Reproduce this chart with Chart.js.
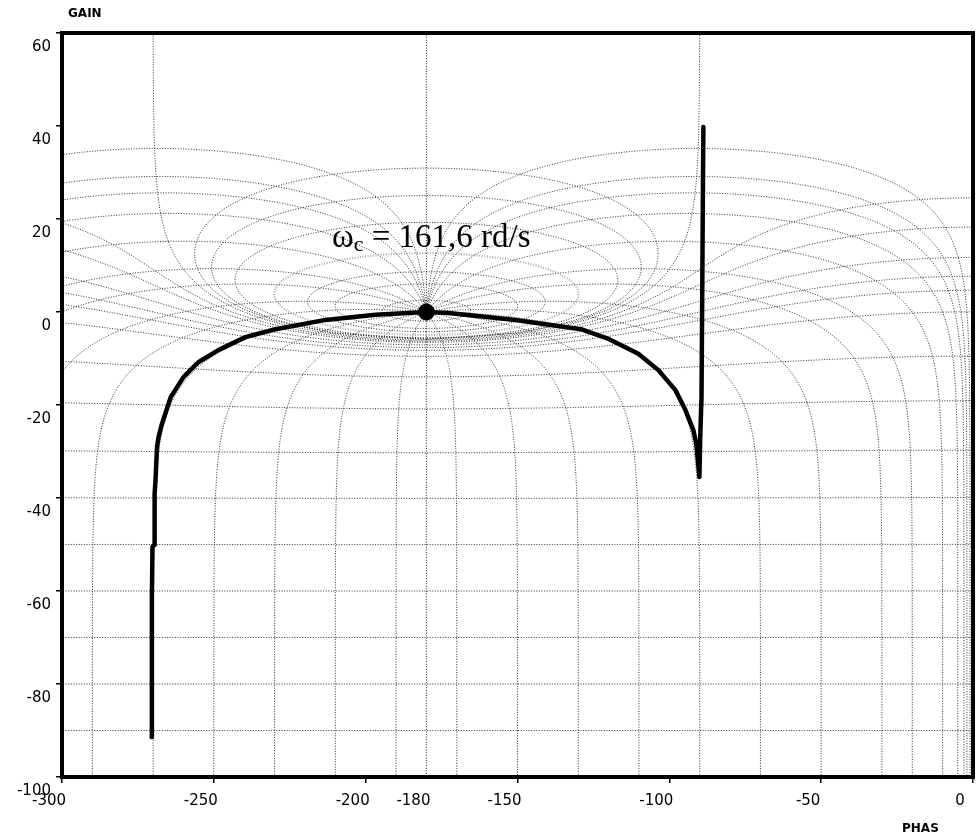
<!DOCTYPE html>
<html>
<head>
<meta charset="utf-8">
<title>Black-Nichols</title>
<script src="https://cdn.jsdelivr.net/npm/chart.js@4.4.0/dist/chart.umd.min.js"></script>
<style>
  html, body { margin: 0; padding: 0; background: #fff; }
  #wrap { position: relative; width: 977px; height: 837px; }
</style>
</head>
<body>
<div id="wrap"><canvas id="nichols" width="977" height="837"></canvas></div>
<script>
////////// Data

// open-loop locus (phase in deg, gain in dB)
const locusPhase = [
  -270.5, -270.4, -270.4, -270.2, -269.7, -269.5, -269.2, -268.7, -268.2, -267.2,
  -264.2, -260.0, -257.4, -255.1, -248.5, -239.6, -229.7, -213.2, -196.8, -180.0,
  -172.7, -150.7, -129.1, -120.0, -110.2, -103.6, -98.0, -94.7, -92.1, -91.1,
  -90.1, -89.8, -89.4, -89.1, -88.8,
];
const locusGain = [
  -91.4, -79.1, -61.3, -50.5, -50.1, -39.1, -36.1, -29.0, -26.9, -24.3,
  -18.3, -14.0, -12.3, -10.8, -8.2, -5.4, -3.7, -1.7, -0.6, 0,
  -0.2, -1.7, -3.7, -5.8, -9.0, -12.5, -16.8, -21.1, -25.4, -28.4,
  -35.5, -26.2, -18.3, 10.3, 39.8,
];

// crossover point
const critPhase = -180;
const critGain = 0;
const critLabel = " = 161,6 rd/s";

// abacus iso-lines : closed-loop gain (dB) and closed-loop phase (deg)
const isoGain = [0.25, 0.5, 1, 2.3, 4, 6, 12, 0, -0.5, -1, -2, -3, -4, -6, -12,
  -20, -30, -40, -50, -60, -70, -80, -90];
const isoPhase = [1, 2, 3, 5, 10, 20, 30, 50, 70, 90, 110, 130, 150, 170];
const highlightGain = 2.3;

// axes
const phaseTicks = [-300, -250, -200, -180, -150, -100, -50, 0];
const gainTicks = [-100, -80, -60, -40, -20, 0, 20, 40, 60];

////////// Abacus curves (closed loop T = L / (1 + L))
const rad = Math.PI / 180;
const dB = (r) => 20 * Math.log10(r);

function gainContour(m) {
  const M = Math.pow(10, m / 20);
  const pts = [];
  if (m === 0) {
    // Re(L) = -1/2
    const offs = [];
    for (let k = -3; k <= Math.log10(90); k += 0.02) offs.push(Math.pow(10, k));
    offs.push(90);
    offs.forEach((d) => {
      const phi = -90 - d;
      pts.push({ x: phi, y: dB(-1 / (2 * Math.cos(phi * rad))) });
    });
    offs.slice().reverse().forEach((d) => {
      const phi = -270 + d;
      pts.push({ x: phi, y: dB(-1 / (2 * Math.cos(phi * rad))) });
    });
  } else if (M < 1) {
    const M2 = M * M;
    for (let phi = -360; phi <= 0.001; phi += 0.5) {
      const c = Math.cos(phi * rad);
      const r = (M2 * c + Math.sqrt(M2 * M2 * c * c + M2 * (1 - M2))) / (1 - M2);
      pts.push({ x: phi, y: dB(r) });
    }
  } else {
    const M2 = M * M;
    const cen = -M2 / (M2 - 1);
    const rr = M / (M2 - 1);
    for (let t = 0; t <= 360; t += 1) {
      const re = cen + rr * Math.cos(t * rad);
      const im = rr * Math.sin(t * rad);
      let ph = Math.atan2(im, re) / rad;
      if (ph > 0) ph -= 360;
      pts.push({ x: ph, y: dB(Math.hypot(re, im)) });
    }
  }
  return pts;
}

function phaseContour(n) {
  const psi = -n;
  const span = 180 + psi;
  const s = [];
  for (let k = -9; k < -2.7; k += 0.05) s.push(Math.pow(10, k));
  for (let u = 0.002; u <= 1.0001; u += 0.002) s.push(u);
  s.sort((p, q) => p - q);
  const pts = [];
  s.forEach((v) => {
    const a = -span * v;
    const r = Math.sin(a * rad) / Math.sin(psi * rad);
    if (r > 0) pts.push({ x: psi + a, y: dB(r) });
  });
  return pts;
}

const mirror = (pts) => pts.map((p) => ({ x: -360 - p.x, y: p.y }));

const gridStyle = {
  showLine: true,
  pointRadius: 0,
  borderColor: "rgba(20,20,20,0.9)",
  borderWidth: 1,
  borderDash: [1, 1.6],
  tension: 0,
  order: 3,
};

const gridSets = [];
isoGain.forEach((m) => {
  const hi = m === highlightGain;
  gridSets.push({
    ...gridStyle,
    data: gainContour(m),
    borderColor: hi ? "#a9a9a9" : gridStyle.borderColor,
    borderWidth: hi ? 2.2 : 1,
  });
});
isoPhase.forEach((n) => {
  const pts = phaseContour(n);
  gridSets.push({ ...gridStyle, data: pts });
  gridSets.push({ ...gridStyle, data: mirror(pts) });
});
// closed-loop phase 0 : the -180 line above 0 dB
gridSets.push({ ...gridStyle, data: [{ x: -180, y: -200 }, { x: -180, y: 200 }] });

////////// Frame and texts
const decor = {
  id: "decor",
  afterDatasetsDraw(chart) {
    const { ctx, chartArea: a } = chart;
    ctx.save();
    ctx.strokeStyle = "#000";
    ctx.lineWidth = 4;
    ctx.strokeRect(a.left, a.top, a.right - a.left, a.bottom - a.top);

    ctx.fillStyle = "#000";
    ctx.font = "bold 12px 'DejaVu Sans'";
    ctx.textBaseline = "middle";
    ctx.textAlign = "left";
    ctx.fillText("GAIN", 68, 14);
    ctx.fillText("PHAS", 902, 829);

    // omega_c annotation
    ctx.textBaseline = "alphabetic";
    let x = 332;
    const y = 247;
    ctx.font = "33px 'Liberation Serif'";
    ctx.fillText("\u03C9", x, y);
    x += ctx.measureText("\u03C9").width;
    ctx.font = "22px 'Liberation Serif'";
    ctx.fillText("c", x, y + 4);
    x += ctx.measureText("c").width;
    ctx.font = "33px 'Liberation Serif'";
    ctx.fillText(critLabel, x, y);
    ctx.restore();
  },
};

////////// Chart
const nicholsEl = document.getElementById("nichols").getContext("2d");

const nicholsChart = new Chart(nicholsEl, {
  type: "scatter",
  data: {
    datasets: [
      {
        data: [{ x: critPhase, y: critGain }],
        pointRadius: 8,
        pointBackgroundColor: "#000",
        pointBorderColor: "#000",
        order: 0,
      },
      {
        data: locusPhase.map((p, i) => ({ x: p, y: locusGain[i] })),
        showLine: true,
        pointRadius: 0,
        borderColor: "#000",
        borderWidth: 4.5,
        borderCapStyle: "round",
        borderJoinStyle: "round",
        tension: 0,
        order: 1,
      },
      ...gridSets,
    ],
  },
  options: {
    responsive: false,
    animation: false,
    events: [],
    layout: { autoPadding: false, padding: { top: 33, right: 4, left: 0, bottom: 0 } },
    plugins: { legend: { display: false }, tooltip: { enabled: false } },
    scales: {
      x: {
        type: "linear",
        min: -300,
        max: 0,
        afterBuildTicks: (s) => { s.ticks = phaseTicks.map((v) => ({ value: v })); },
        afterFit: (s) => {
          s.height = 60;
          s.paddingLeft = 0;
          s.paddingRight = 0;
        },
        border: { display: false },
        grid: {
          drawOnChartArea: false,
          tickLength: 6,
          color: "#000",
          lineWidth: (c) => (c.tick && c.tick.value === -180 ? 0 : 1.5),
        },
        ticks: {
          color: "#000",
          font: { family: "DejaVu Sans", size: 15 },
          labelOffset: -13,
          padding: 9,
          maxRotation: 0,
          autoSkip: false,
        },
      },
      y: {
        type: "linear",
        min: -100,
        max: 60,
        afterBuildTicks: (s) => { s.ticks = gainTicks.map((v) => ({ value: v })); },
        afterFit: (s) => {
          s.width = 62;
          s.paddingTop = 0;
          s.paddingBottom = 0;
        },
        border: { display: false },
        grid: { drawOnChartArea: false, tickLength: 6, color: "#000", lineWidth: 1.5 },
        ticks: {
          color: "#000",
          font: { family: "DejaVu Sans", size: 15 },
          labelOffset: 14,
          padding: 5,
          autoSkip: false,
        },
      },
    },
  },
  plugins: [decor],
});
</script>
</body>
</html>
